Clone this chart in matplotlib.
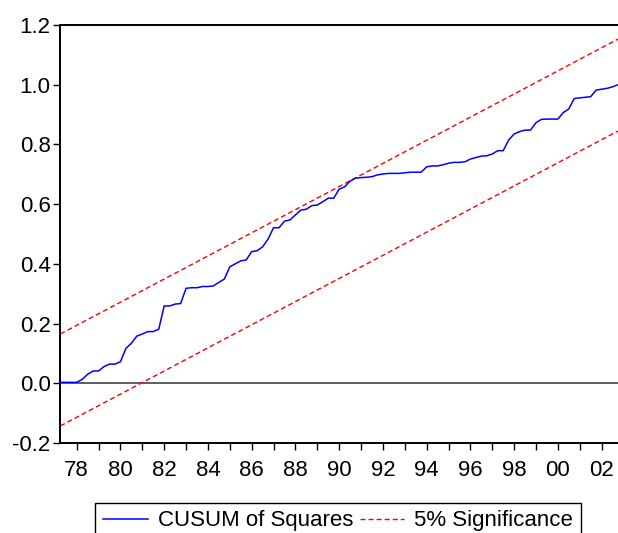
import numpy as np
import matplotlib
matplotlib.use("Agg")
import matplotlib.pyplot as plt

plt.rcParams['font.family'] = ['Liberation Sans', 'DejaVu Sans']

# quarterly observations, 1977Q2 .. 2002Q4
start_year = 1977.25
cusum_sq = [
    0.003, 0.003, 0.003, 0.003, 0.013, 0.030, 0.041, 0.041, 0.056, 0.064,
    0.064, 0.072, 0.117, 0.134, 0.158, 0.165, 0.173, 0.173, 0.181, 0.259,
    0.259, 0.265, 0.267, 0.318, 0.320, 0.320, 0.324, 0.324, 0.326, 0.338,
    0.349, 0.390, 0.400, 0.410, 0.413, 0.441, 0.444, 0.457, 0.483, 0.521,
    0.521, 0.543, 0.547, 0.564, 0.580, 0.583, 0.595, 0.597, 0.608, 0.620,
    0.620, 0.650, 0.658, 0.677, 0.687, 0.689, 0.690, 0.692, 0.698, 0.701,
    0.703, 0.703, 0.703, 0.705, 0.707, 0.707, 0.707, 0.725, 0.728, 0.728,
    0.732, 0.737, 0.740, 0.740, 0.742, 0.751, 0.756, 0.761, 0.762, 0.768,
    0.779, 0.779, 0.815, 0.835, 0.843, 0.848, 0.848, 0.873, 0.884, 0.885,
    0.885, 0.885, 0.907, 0.919, 0.954, 0.956, 0.958, 0.960, 0.982, 0.985,
    0.988, 0.993, 1.000,
]

# 5% significance bounds: straight lines between the sample end points
bound_x = [1977.25, 2002.75]
upper_bound = [0.165, 1.153]
lower_bound = [-0.143, 0.845]

year_ticks = list(range(1978, 2003))
year_labels = [f"{y % 100:02d}" if y % 2 == 0 else "" for y in year_ticks]
y_ticks = [-0.2, 0.0, 0.2, 0.4, 0.6, 0.8, 1.0, 1.2]

dates = start_year + 0.25 * np.arange(len(cusum_sq))

fig = plt.figure(figsize=(6.18, 5.33), dpi=100)
ax = fig.add_axes([0.0976, 0.169, 0.9024, 0.784])

ax.axhline(0.0, color='#333333', linewidth=1.1, zorder=1)
ax.plot(dates, cusum_sq, color='#0000ff', linewidth=1.1, label='CUSUM of Squares', zorder=3)
ax.plot(bound_x, upper_bound, color='#ff0000', linewidth=1.0,
        linestyle=(0, (3.6, 2.2)), label='5% Significance', zorder=2)
ax.plot(bound_x, lower_bound, color='#ff0000', linewidth=1.0,
        linestyle=(0, (3.6, 2.2)), zorder=2)

ax.set_xlim(bound_x[0], bound_x[1])
ax.set_ylim(-0.2, 1.2)
ax.set_xticks(year_ticks)
ax.set_xticklabels(year_labels)
ax.set_yticks(y_ticks)
ax.set_yticklabels([f"{v:.1f}" for v in y_ticks])

for side in ('left', 'top', 'bottom'):
    ax.spines[side].set_linewidth(1.4)
    ax.spines[side].set_color('black')
ax.spines['right'].set_visible(False)

ax.tick_params(axis='both', direction='out', length=5, width=1.0,
               labelsize=16, colors='black')
ax.tick_params(axis='x', pad=7)
ax.tick_params(axis='y', pad=2)

fig.legend(loc='upper center', bbox_to_anchor=(0.547, 0.057), ncol=2,
           fontsize=16, frameon=True, fancybox=False, edgecolor='black',
           framealpha=1.0, borderpad=0.35, handlelength=2.0,
           handletextpad=0.45, columnspacing=0.3, borderaxespad=0.0)

fig.savefig('out.png', dpi=100)
